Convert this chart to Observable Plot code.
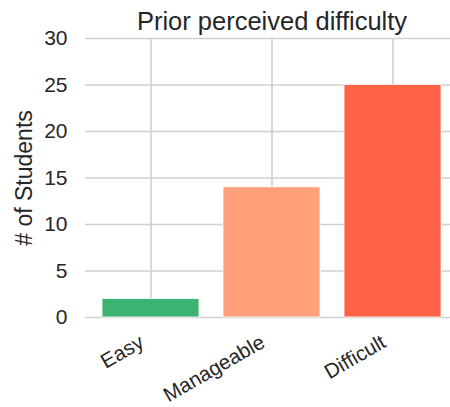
<!DOCTYPE html>
<html>
<head>
<meta charset="utf-8">
<script src="https://cdn.jsdelivr.net/npm/d3@7"></script>
<script src="https://cdn.jsdelivr.net/npm/@observablehq/plot@0.6"></script>
<style>
  html, body { margin: 0; padding: 0; background: #fff; }
  svg { display: block; }
</style>
</head>
<body>
<div id="chart"></div>
<script>
const categories = ["Easy", "Manageable", "Difficult"];
const students = [2, 14, 25];
const barColors = ["#3cb371", "#ffa07a", "#ff6347"];
const yTicks = [0, 5, 10, 15, 20, 25, 30];
const title = "Prior perceived difficulty";
const yLabel = "# of Students";

const data = categories.map((c, i) => ({category: c, value: students[i], color: barColors[i]}));

const textColor = "#262626";
const gridColor = "#d0d0d0";
const font = "'Liberation Sans', Arial, sans-serif";

const chart = Plot.plot({
  width: 450,
  height: 407,
  marginTop: 38,
  marginBottom: 90,
  marginLeft: 85,
  marginRight: 0,
  style: {fontFamily: font, background: "#fff", color: textColor},
  x: {domain: categories, range: [84.3, 459.3], paddingInner: 0.2, paddingOuter: 0.14, align: 0.5, label: null},
  y: {domain: [0, 30], ticks: yTicks, label: null},
  marks: [
    Plot.gridY(yTicks, {stroke: gridColor, strokeOpacity: 1, strokeWidth: 1.6}),
    Plot.gridX(categories, {stroke: gridColor, strokeOpacity: 1, strokeWidth: 1.6}),
    Plot.barY(data, {x: "category", y: "value", fill: "color", stroke: "white", strokeWidth: 0.8}),
    Plot.axisY(yTicks, {tickSize: 0, tickPadding: 18, fontSize: 21, fill: textColor, label: null}),
    Plot.axisX({tickSize: 0, tickRotate: -30, tickPadding: 23, dx: -9, fontSize: 20.5, fill: textColor, label: null}),
    Plot.text([yLabel], {frameAnchor: "left", dx: -61, rotate: -90, fontSize: 23, fill: textColor, textAnchor: "middle"}),
    Plot.text([title], {x: () => "Manageable", y: () => 30, dy: -17, fontSize: 25.5, fill: textColor, textAnchor: "middle"})
  ]
});
document.getElementById("chart").appendChild(chart);
</script>
</body>
</html>
